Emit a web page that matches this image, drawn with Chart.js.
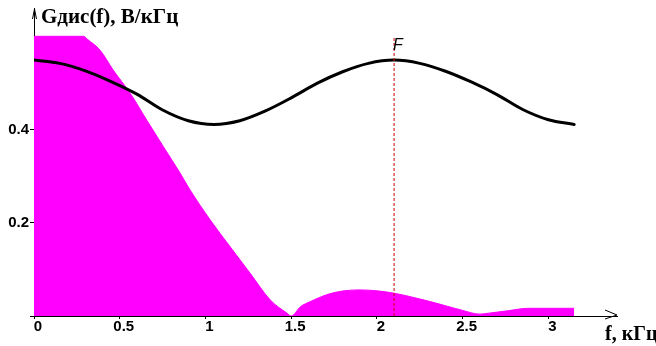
<!DOCTYPE html>
<html><head><meta charset="utf-8">
<script src="https://cdn.jsdelivr.net/npm/chart.js@4"></script>
<style>html,body{margin:0;padding:0;background:#fff}#wrap{width:656px;height:346px}</style>
</head><body><div id="wrap"><canvas id="c" width="656" height="346"></canvas></div>
<script>
const xTicks = [0, 0.5, 1, 1.5, 2, 2.5, 3];
const yTicks = [0, 0.2, 0.4];
const spectrumF = [0, 0.29, 0.31, 0.386, 0.463, 0.561, 0.658, 0.755, 0.853, 0.911, 1.028, 1.145, 1.262, 1.379, 1.476, 1.5, 1.554, 1.612, 1.71, 1.807, 1.904, 2.0, 2.1, 2.2, 2.3, 2.4, 2.5, 2.6, 2.65, 2.76, 2.88, 3.15];
const spectrumG = [0.6, 0.6, 0.594, 0.570, 0.527, 0.478, 0.420, 0.363, 0.306, 0.270, 0.206, 0.148, 0.091, 0.034, 0.006, 0.0, 0.020, 0.031, 0.046, 0.054, 0.056, 0.054, 0.049, 0.041, 0.032, 0.022, 0.012, 0.004, 0.006, 0.011, 0.0165, 0.0165];
const curveF = [0, 0.15, 0.3, 0.45, 0.6, 0.75, 0.9, 1.05, 1.2, 1.35, 1.5, 1.65, 1.8, 1.95, 2.1, 2.25, 2.4, 2.55, 2.7, 2.85, 3.0, 3.15];
const curveG = [0.549, 0.542, 0.526, 0.503, 0.476, 0.442, 0.419, 0.411, 0.419, 0.440, 0.468, 0.499, 0.524, 0.542, 0.549, 0.542, 0.525, 0.502, 0.475, 0.443, 0.421, 0.411];
const markerF = 2.1;
const markerTop = 0.6;
const yAxisTitle = 'Gдис(f), В/кГц';
const xAxisTitle = 'f, кГц';
const markerLabel = 'F';

const tickFont = {family: 'Liberation Sans', size: 15, weight: 'bold'};

const overlay = {
  id: 'overlay',
  afterDraw(chart) {
    const ctx = chart.ctx;
    const xs = chart.scales.x, ys = chart.scales.y;
    const x0 = xs.left, y0 = ys.bottom;
    ctx.save();
    ctx.strokeStyle = '#000';
    ctx.lineWidth = 1;
    ctx.beginPath();
    ctx.moveTo(x0 + 0.5, ys.top);
    ctx.lineTo(x0 + 0.5, 8);
    ctx.moveTo(x0 - 1.5, 19);
    ctx.lineTo(x0 + 0.5, 9);
    ctx.lineTo(x0 + 2.5, 19);
    ctx.stroke();
    const xr = xs.right;
    ctx.beginPath();
    ctx.moveTo(xr - 12, y0 - 6);
    ctx.lineTo(xr, y0 - 1);
    ctx.lineTo(xr - 12, y0 + 3);
    ctx.stroke();
    ctx.fillStyle = '#000';
    ctx.textBaseline = 'alphabetic';
    ctx.textAlign = 'left';
    ctx.font = 'bold 21px "Liberation Serif"';
    ctx.fillText(yAxisTitle, 41, 23);
    ctx.font = 'bold 20px "Liberation Serif"';
    ctx.fillText(xAxisTitle, 605, 340);
    ctx.font = 'italic 16px "Liberation Sans"';
    ctx.fillText(markerLabel, xs.getPixelForValue(markerF) - 1, 50);
    ctx.restore();
  }
};

new Chart(document.getElementById('c'), {
  type: 'line',
  data: {
    datasets: [
      {
        data: [{x: markerF, y: 0}, {x: markerF, y: markerTop}],
        borderColor: '#cc0000', borderWidth: 1, borderDash: [3, 2],
        pointRadius: 0, fill: false, order: 0
      },
      {
        data: curveF.map((f, i) => ({x: f, y: curveG[i]})),
        borderColor: '#000', borderWidth: 3, cubicInterpolationMode: 'monotone',
        pointRadius: 0, fill: false, order: 1, borderCapStyle: 'round', borderJoinStyle: 'round'
      },
      {
        data: spectrumF.map((f, i) => ({x: f, y: spectrumG[i]})),
        borderColor: '#ff00ff', backgroundColor: '#ff00ff', borderWidth: 1,
        cubicInterpolationMode: 'monotone',
        pointRadius: 0, fill: 'origin', order: 2
      }
    ]
  },
  options: {
    responsive: false, animation: false, devicePixelRatio: 1,
    layout: {padding: {top: 13, right: 39, left: 0, bottom: 0}},
    plugins: {legend: {display: false}, tooltip: {enabled: false}},
    scales: {
      x: {
        type: 'linear', min: 0, max: 3.4,
        afterBuildTicks: s => { s.ticks = xTicks.map(v => ({value: v})); },
        afterFit: s => { s.height = 30; },
        grid: {drawOnChartArea: false, tickLength: 3, color: '#000'},
        border: {color: '#000', width: 1},
        ticks: {font: tickFont, color: '#000', padding: -1, labelOffset: 4, maxRotation: 0, autoSkip: false, callback: v => String(v)}
      },
      y: {
        type: 'linear', min: 0, max: 0.65,
        afterBuildTicks: s => { s.ticks = yTicks.map(v => ({value: v})); },
        afterFit: s => { s.width = 34; },
        grid: {drawOnChartArea: false, tickLength: 4, color: '#000'},
        border: {color: '#000', width: 1},
        ticks: {font: tickFont, color: '#000', padding: 1, callback: v => v === 0 ? '' : v.toFixed(1)}
      }
    }
  },
  plugins: [overlay]
});
</script>
</body></html>
